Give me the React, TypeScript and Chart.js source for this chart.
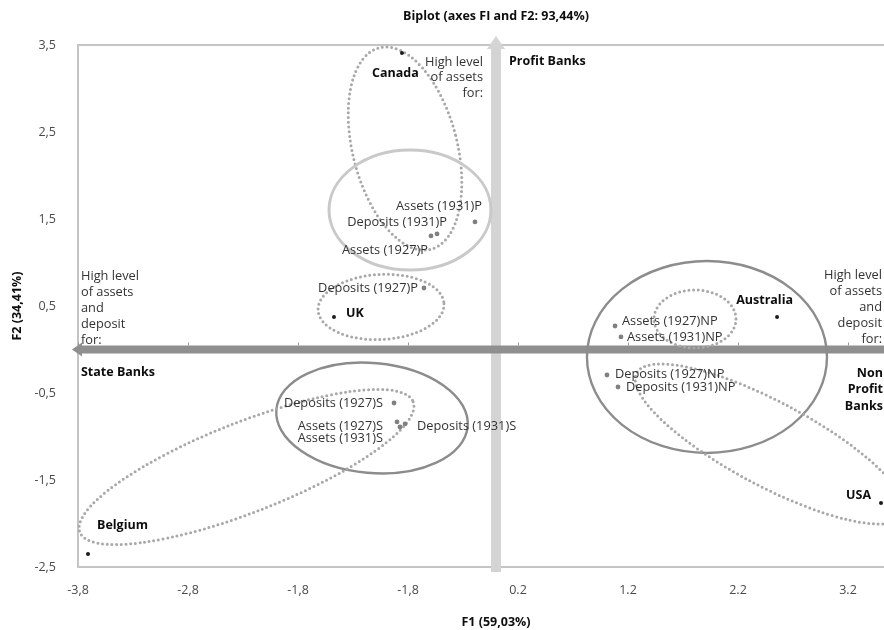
import { useEffect, useRef } from 'react';
import { Chart, registerables } from 'chart.js';

Chart.register(...registerables);

// Observations (countries) on the first two factors
const countryNames = ['Canada', 'UK', 'Belgium', 'Australia', 'USA'];
const countryF1 = [-0.855, -1.473, -3.709, 2.555, 3.5];
const countryF2 = [3.408, 0.374, -2.351, 0.374, -1.764];

// Variables (assets / deposits by year and bank type)
const variableNames = [
  'Assets (1927)P', 'Assets (1931)P', 'Deposits (1927)P', 'Deposits (1931)P',
  'Assets (1927)S', 'Assets (1931)S', 'Deposits (1927)S', 'Deposits (1931)S',
  'Assets (1927)NP', 'Assets (1931)NP', 'Deposits (1927)NP', 'Deposits (1931)NP',
];
const variableF1 = [-0.591, -0.191, -0.655, -0.536, -0.9, -0.873, -0.927, -0.827, 1.082, 1.136, 1.009, 1.109];
const variableF2 = [1.305, 1.466, 0.707, 1.328, -0.833, -0.891, -0.615, -0.856, 0.27, 0.144, -0.293, -0.431];

// Axis ticks
const xTickValues = [-3.8, -2.8, -1.8, -0.8, 0.2, 1.2, 2.2, 3.2];
const xTickLabels = ['-3,8', '-2,8', '-1,8', '-1,8', '0.2', '1.2', '2.2', '3.2'];
const yTickValues = [-2.5, -1.5, -0.5, 0.5, 1.5, 2.5, 3.5];
const yTickLabels = ['-2,5', '-1,5', '-0,5', '0,5', '1,5', '2,5', '3,5'];

// Grouping ellipses: centre (F1, F2), semi-axes in axis units, tilt in degrees
const ellipseNames = ['Canada', 'Profit', 'UK', 'State', 'Belgium', 'NonProfit', 'Australia', 'USA'];
const ellipseF1 = [-0.827, -0.782, -1.045, -1.127, -2.268, 1.918, 1.809, 2.491];
const ellipseF2 = [2.31, 1.603, 0.489, -0.787, -1.351, -0.086, 0.351, -1.086];
const ellipseRx = [0.475, 0.736, 0.573, 0.873, 1.627, 1.091, 0.373, 1.373];
const ellipseRy = [1.195, 0.69, 0.374, 0.632, 0.517, 1.103, 0.333, 0.483];
const ellipseTilt = [-14.3, 0, -3, 5, -21.4, 0, 0, 28];

// Free text placed in the plot
const noteLines = [
  ['High level', 'of assets', 'for:'],
  ['Profit Banks'],
  ['High level', 'of assets', 'and', 'deposit', 'for:'],
  ['High level', 'of assets', 'and', 'deposit', 'for:'],
  ['State Banks'],
  ['Non', 'Profit', 'Banks'],
];
const noteF1 = [-0.118, 0.118, -3.773, 3.509, -3.773, 3.518];
const noteF2 = [3.305, 3.316, 0.845, 0.856, -0.259, -0.27];

// ---- styling ----
const FAMILY = "'Open Sans', 'DejaVu Sans', sans-serif";
const boldFont = `bold 12.5px ${FAMILY}`;
const labelFont = `normal 12.8px ${FAMILY}`;

const ellipseStyle = [
  { dotted: true, color: '#a8a8a8', width: 3 },
  { dotted: false, color: '#c9c9c9', width: 3 },
  { dotted: true, color: '#a8a8a8', width: 3 },
  { dotted: false, color: '#8c8c8c', width: 2.4 },
  { dotted: true, color: '#a8a8a8', width: 3 },
  { dotted: false, color: '#8c8c8c', width: 2.4 },
  { dotted: true, color: '#a8a8a8', width: 3 },
  { dotted: true, color: '#a8a8a8', width: 3 },
];

// label placement relative to the marker: [dx, dy, align]
const countryLabelPlacement: [number, number, CanvasTextAlign][] = [
  [-6.5, 20, 'center'],
  [12, -4, 'left'],
  [9, -29, 'left'],
  [16, -17, 'right'],
  [-10, -8, 'right'],
];
const variableLabelPlacement: [number, number, CanvasTextAlign][] = [
  [-3, 14, 'right'],
  [7, -16, 'right'],
  [-6, 0, 'right'],
  [10, -12, 'right'],
  [-14, 4, 'right'],
  [-17, 11, 'right'],
  [-11, 0, 'right'],
  [12, 2, 'left'],
  [7, -5, 'left'],
  [6, 0, 'left'],
  [8, -1, 'left'],
  [8, 0, 'left'],
];
const noteStyle: { align: CanvasTextAlign; bold: boolean; lh: number }[] = [
  { align: 'right', bold: false, lh: 15.5 },
  { align: 'left', bold: true, lh: 16 },
  { align: 'left', bold: false, lh: 16 },
  { align: 'right', bold: false, lh: 16 },
  { align: 'left', bold: true, lh: 16 },
  { align: 'right', bold: true, lh: 16.5 },
];

function drawLines(
  ctx: CanvasRenderingContext2D,
  lines: string[],
  px: number,
  py: number,
  align: CanvasTextAlign,
  font: string,
  color: string,
  lh: number,
) {
  ctx.font = font;
  ctx.fillStyle = color;
  ctx.textAlign = align;
  ctx.textBaseline = 'middle';
  lines.forEach((t, i) => ctx.fillText(t, px, py + i * lh));
}

const biplotDecor = {
  id: 'biplotDecor',
  beforeDatasetsDraw(chart: any) {
    const { ctx, chartArea: a, scales } = chart;
    const x = scales.x;
    const y = scales.y;
    ctx.save();

    // plot frame
    ctx.strokeStyle = '#c4c4c4';
    ctx.lineWidth = 2;
    ctx.strokeRect(a.left, a.top, a.right - a.left, a.bottom - a.top);

    const x0 = x.getPixelForValue(0);
    const y0 = y.getPixelForValue(0);

    // vertical axis arrow (light)
    ctx.fillStyle = '#d4d4d4';
    ctx.fillRect(x0 - 5, a.top + 4, 10, a.bottom + 5 - (a.top + 4));
    ctx.beginPath();
    ctx.moveTo(x0, a.top - 9);
    ctx.lineTo(x0 + 9, a.top + 4);
    ctx.lineTo(x0 - 9, a.top + 4);
    ctx.closePath();
    ctx.fill();

    // horizontal axis arrow (dark)
    ctx.fillStyle = '#8f8f8f';
    ctx.fillRect(a.left + 3, y0 - 4, a.right - a.left - 6, 8);
    ctx.beginPath();
    ctx.moveTo(a.left - 6, y0);
    ctx.lineTo(a.left + 4, y0 - 7);
    ctx.lineTo(a.left + 4, y0 + 7);
    ctx.closePath();
    ctx.fill();
    ctx.beginPath();
    ctx.moveTo(a.right + 6, y0);
    ctx.lineTo(a.right - 4, y0 - 7);
    ctx.lineTo(a.right - 4, y0 + 7);
    ctx.closePath();
    ctx.fill();
    // tick marks along the horizontal axis
    ctx.strokeStyle = '#9a9a9a';
    ctx.lineWidth = 1;
    xTickValues.forEach((v) => {
      const px = Math.round(x.getPixelForValue(v)) + 0.5;
      ctx.beginPath();
      ctx.moveTo(px, y0 - 7);
      ctx.lineTo(px, y0 - 4);
      ctx.stroke();
    });

    // group ellipses
    ellipseNames.forEach((_, i) => {
      const cx = x.getPixelForValue(ellipseF1[i]);
      const cy = y.getPixelForValue(ellipseF2[i]);
      const rx = Math.abs(x.getPixelForValue(ellipseF1[i] + ellipseRx[i]) - cx);
      const ry = Math.abs(y.getPixelForValue(ellipseF2[i] + ellipseRy[i]) - cy);
      const st = ellipseStyle[i];
      ctx.save();
      ctx.strokeStyle = st.color;
      ctx.lineWidth = st.width;
      if (st.dotted) {
        ctx.setLineDash([0, 4.7]);
        ctx.lineCap = 'round';
      } else {
        ctx.setLineDash([]);
      }
      ctx.beginPath();
      ctx.ellipse(cx, cy, rx, ry, (ellipseTilt[i] * Math.PI) / 180, 0, Math.PI * 2);
      ctx.stroke();
      ctx.restore();
    });
    ctx.restore();
  },
  afterDatasetsDraw(chart: any) {
    const { ctx, scales } = chart;
    const x = scales.x;
    const y = scales.y;
    ctx.save();

    variableNames.forEach((name, i) => {
      const [dx, dy, align] = variableLabelPlacement[i];
      drawLines(ctx, [name], x.getPixelForValue(variableF1[i]) + dx, y.getPixelForValue(variableF2[i]) + dy, align, labelFont, '#333333', 0);
    });
    countryNames.forEach((name, i) => {
      const [dx, dy, align] = countryLabelPlacement[i];
      drawLines(ctx, [name], x.getPixelForValue(countryF1[i]) + dx, y.getPixelForValue(countryF2[i]) + dy, align, boldFont, '#0d0d0d', 0);
    });
    noteLines.forEach((lines, i) => {
      const st = noteStyle[i];
      drawLines(
        ctx,
        lines,
        x.getPixelForValue(noteF1[i]),
        y.getPixelForValue(noteF2[i]),
        st.align,
        st.bold ? boldFont : labelFont,
        st.bold ? '#0d0d0d' : '#333333',
        st.lh,
      );
    });
    ctx.restore();
  },
};

export default function App() {
  const canvasRef = useRef<HTMLCanvasElement | null>(null);

  useEffect(() => {
    const canvas = canvasRef.current;
    if (!canvas) return;
    const tickFont = { family: FAMILY, size: 12.5, weight: 'normal' as const };
    const titleFont = { family: FAMILY, size: 12.5, weight: 'bold' as const };

    const chart = new Chart(canvas, {
      type: 'scatter',
      data: {
        datasets: [
          {
            label: 'Variables',
            data: variableF1.map((v, i) => ({ x: v, y: variableF2[i] })),
            pointRadius: 2.4,
            pointBackgroundColor: '#808080',
            pointBorderWidth: 0,
          },
          {
            label: 'Countries',
            data: countryF1.map((v, i) => ({ x: v, y: countryF2[i] })),
            pointRadius: 2,
            pointBackgroundColor: '#1c1c1c',
            pointBorderWidth: 0,
          },
        ],
      },
      options: {
        responsive: false,
        animation: false,
        events: [],
        layout: { padding: { left: 0, right: 16, top: 0, bottom: 0 } },
        plugins: {
          legend: { display: false },
          tooltip: { enabled: false },
          title: {
            display: true,
            text: 'Biplot (axes FI and F2: 93,44%)',
            fullSize: false,
            color: '#0d0d0d',
            font: titleFont,
            padding: { top: 9, bottom: 21 },
          },
        },
        scales: {
          x: {
            type: 'linear',
            min: -3.8,
            max: 3.8,
            grid: { display: false, drawTicks: false },
            border: { display: false },
            afterBuildTicks: (s: any) => {
              s.ticks = xTickValues.map((v) => ({ value: v }));
            },
            afterFit: (s: any) => {
              s.height = 63;
            },
            ticks: {
              autoSkip: false,
              maxRotation: 0,
              padding: 16,
              color: '#4a4a4a',
              font: tickFont,
              callback: (_v: any, i: number) => xTickLabels[i],
            },
            title: {
              display: true,
              text: 'F1 (59,03%)',
              color: '#0d0d0d',
              font: titleFont,
              padding: { top: 0, bottom: 0 },
            },
          },
          y: {
            type: 'linear',
            min: -2.5,
            max: 3.5,
            grid: { display: false, drawTicks: false },
            border: { display: false },
            afterBuildTicks: (s: any) => {
              s.ticks = yTickValues.map((v) => ({ value: v }));
            },
            afterFit: (s: any) => {
              s.width = 78;
            },
            ticks: {
              padding: 22,
              color: '#4a4a4a',
              font: tickFont,
              callback: (_v: any, i: number) => yTickLabels[i],
            },
            title: {
              display: true,
              text: 'F2 (34,41%)',
              color: '#0d0d0d',
              font: titleFont,
              padding: { top: 9.5, bottom: 0 },
            },
          },
        },
      },
      plugins: [biplotDecor],
    });

    return () => chart.destroy();
  }, []);

  return (
    <div
      style={{
        position: 'absolute',
        left: 0,
        top: 0,
        width: 884,
        height: 630,
        overflow: 'hidden',
        background: '#ffffff',
      }}
    >
      <canvas ref={canvasRef} width={930} height={630} style={{ display: 'block' }} />
    </div>
  );
}
